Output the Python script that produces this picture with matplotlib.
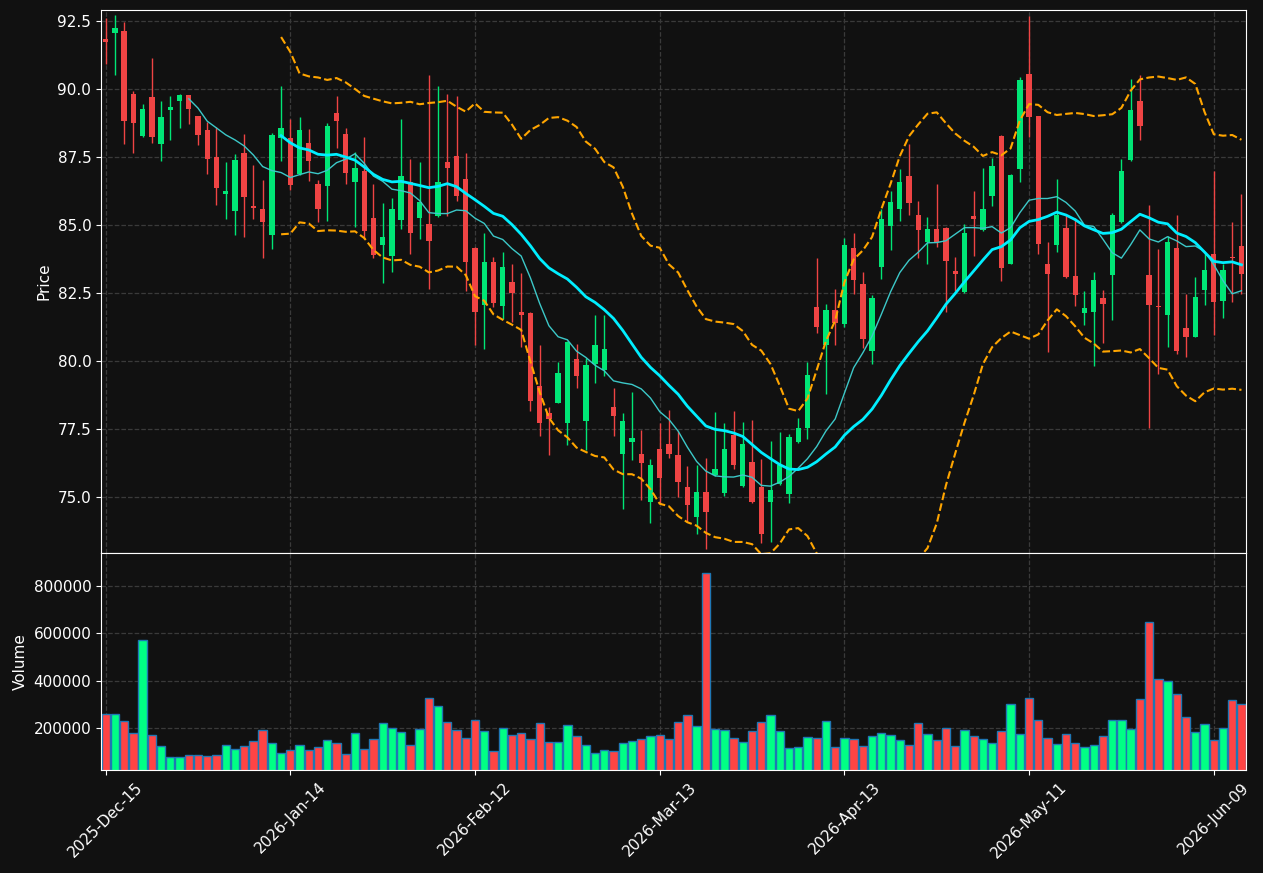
import numpy as np
import pandas as pd
import matplotlib
matplotlib.use("Agg")
import matplotlib.pyplot as plt
from pandas.tseries.offsets import CustomBusinessDay

holidays = ["2025-12-25", "2026-01-01", "2026-01-19", "2026-02-16", "2026-04-03", "2026-05-25"]
start_date = "2025-12-15"

opens = [91.83, 92.04, 92.14, 89.81, 88.27, 89.70, 87.98, 89.23, 89.55, 89.76,
         89.00, 88.48, 87.48, 86.14, 85.51, 87.64, 85.71, 85.57, 84.62, 88.20,
         88.19, 86.89, 88.03, 86.50, 86.43, 89.13, 88.33, 86.57, 86.97, 85.24,
         84.25, 83.84, 85.17, 86.57, 85.25, 85.05, 85.32, 87.30, 87.52, 86.68,
         84.16, 82.07, 83.65, 82.03, 82.90, 81.80, 81.76, 79.07, 78.10, 78.45,
         77.72, 80.07, 77.80, 79.90, 79.67, 78.30, 76.56, 77.01, 76.56, 74.83,
         76.78, 76.96, 76.53, 75.37, 74.28, 75.18, 75.79, 75.14, 77.27, 75.40,
         76.30, 75.35, 74.83, 75.46, 75.11, 77.01, 77.53, 81.99, 80.59, 81.89,
         81.34, 84.16, 82.84, 80.38, 83.44, 84.96, 85.57, 86.79, 85.38, 84.38,
         84.84, 84.90, 83.29, 82.52, 85.34, 84.80, 86.08, 88.27, 83.58, 87.06,
         90.56, 89.00, 83.57, 84.28, 84.90, 83.12, 81.77, 81.81, 82.31, 83.15,
         85.10, 87.39, 89.55, 83.17, 82.02, 81.67, 84.16, 81.21, 80.89, 82.62,
         83.94, 82.20, 83.81, 84.22]
highs = [92.59, 92.73, 92.46, 89.93, 89.43, 91.13, 89.54, 89.74, 89.83, 89.76,
         89.02, 88.77, 88.59, 87.30, 87.59, 88.33, 87.20, 86.64, 88.39, 90.10,
         88.91, 88.97, 88.52, 86.66, 88.74, 89.74, 88.56, 87.69, 88.23, 86.50,
         85.79, 86.00, 88.88, 87.41, 87.30, 90.51, 90.10, 89.81, 89.74, 87.66,
         84.20, 84.70, 83.81, 84.01, 83.56, 83.24, 81.80, 80.58, 78.32, 79.96,
         80.72, 80.63, 80.12, 81.70, 81.70, 79.02, 78.07, 78.87, 77.46, 76.40,
         77.71, 78.19, 77.42, 76.14, 76.18, 76.44, 78.13, 77.71, 78.17, 77.77,
         77.81, 76.40, 77.04, 77.40, 77.32, 77.91, 79.96, 83.78, 82.11, 82.65,
         84.53, 84.71, 83.26, 82.43, 85.60, 86.25, 87.05, 87.98, 85.89, 85.28,
         86.50, 84.92, 83.81, 85.03, 86.23, 87.10, 87.46, 88.29, 86.89, 90.43,
         92.69, 89.02, 84.38, 86.70, 85.38, 85.25, 82.58, 83.26, 82.62, 85.44,
         87.43, 90.36, 90.51, 85.74, 84.12, 84.61, 85.38, 82.45, 83.10, 83.97,
         86.98, 83.58, 85.12, 86.15]
lows = [90.93, 90.51, 87.97, 87.66, 88.23, 88.00, 87.35, 88.12, 88.55, 88.71,
        87.92, 86.88, 85.73, 85.21, 84.64, 84.56, 85.21, 83.79, 84.12, 87.35,
        86.30, 86.82, 86.61, 85.10, 85.15, 87.84, 86.51, 84.93, 84.48, 83.78,
        82.85, 83.26, 84.84, 83.93, 84.48, 82.65, 85.30, 85.33, 85.87, 82.58,
        80.57, 80.44, 81.97, 81.53, 81.44, 80.53, 78.17, 77.24, 76.55, 78.45,
        76.91, 78.99, 76.72, 79.18, 79.45, 77.24, 74.56, 76.36, 74.88, 74.04,
        74.76, 76.44, 74.99, 74.09, 73.64, 73.09, 75.76, 75.05, 76.04, 75.37,
        74.79, 73.32, 73.36, 75.44, 74.79, 76.97, 77.14, 81.02, 78.77, 80.57,
        81.25, 82.45, 80.48, 79.89, 83.03, 84.07, 85.15, 85.35, 83.80, 83.58,
        84.19, 81.79, 82.58, 82.50, 83.84, 84.78, 85.70, 82.92, 83.56, 86.59,
        88.23, 83.93, 80.31, 84.01, 83.04, 82.02, 81.31, 79.80, 80.67, 81.49,
        85.08, 87.35, 88.14, 77.55, 79.52, 80.53, 80.25, 80.14, 80.87, 82.04,
        80.95, 81.57, 82.17, 82.45]
closes = [91.73, 92.24, 88.83, 88.75, 89.25, 88.24, 88.96, 89.33, 89.78, 89.27,
          88.30, 87.42, 86.35, 86.23, 87.38, 86.02, 85.61, 85.10, 88.29, 88.56,
          86.47, 88.48, 87.34, 85.57, 88.63, 88.83, 86.91, 87.09, 84.76, 83.88,
          84.56, 85.57, 86.79, 84.72, 85.83, 84.40, 86.57, 87.10, 86.06, 83.62,
          81.81, 83.65, 82.13, 83.47, 82.48, 81.67, 78.53, 77.72, 77.87, 79.55,
          80.70, 79.45, 79.85, 80.58, 80.44, 77.98, 77.78, 77.15, 76.24, 76.19,
          75.69, 76.59, 75.54, 74.69, 75.18, 74.44, 76.04, 76.78, 76.17, 76.96,
          74.82, 73.62, 75.27, 76.17, 77.22, 77.55, 79.48, 81.26, 81.88, 81.38,
          84.28, 82.99, 80.79, 82.31, 85.20, 85.83, 86.56, 85.79, 84.83, 84.84,
          84.38, 83.66, 83.20, 84.71, 85.21, 85.60, 87.15, 83.43, 86.82, 90.33,
          88.97, 84.29, 83.20, 85.38, 83.10, 82.43, 81.95, 82.98, 82.11, 85.38,
          86.97, 89.22, 88.64, 82.07, 81.97, 84.39, 80.38, 80.89, 82.35, 83.35,
          82.15, 83.35, 83.78, 83.20]
volumes = [259000, 259000, 229500, 180300, 571000, 170500, 124100, 76300, 76300, 86200,
           86200, 82000, 86200, 128300, 111500, 124100, 145200, 191600, 136800, 94600,
           107300, 128300, 107300, 119900, 149400, 136800, 90400, 179000, 111500, 153600,
           221000, 198600, 183100, 128300, 195800, 326500, 292700, 225300, 191600, 157800,
           233700, 187400, 103000, 200000, 171900, 180300, 155000, 221000, 141000, 141000,
           212600, 166300, 128300, 94600, 107300, 103000, 136800, 145200, 153600, 166300,
           170500, 153600, 225300, 254800, 208400, 853400, 195800, 191600, 157800, 141000,
           187400, 225300, 254800, 187400, 115700, 119900, 162100, 157800, 229500, 119900,
           157800, 153600, 124100, 166300, 179000, 170500, 149400, 128300, 221000, 174700,
           149400, 200000, 124100, 191600, 166300, 153600, 136800, 187400, 301200, 174700,
           326500, 233700, 157800, 132500, 174700, 136800, 119900, 128300, 166300, 233700,
           233700, 195800, 322300, 646900, 406600, 398100, 343300, 246400, 183100, 216900,
           149400, 200000, 318000, 301200]

bday = CustomBusinessDay(holidays=holidays)
dates = pd.date_range(start=start_date, periods=len(closes), freq=bday)

df = pd.DataFrame({"Open": opens, "High": highs, "Low": lows, "Close": closes,
                   "Volume": volumes}, index=dates)
ma10 = df["Close"].rolling(10).mean()
ma20 = df["Close"].rolling(20).mean()
std20 = df["Close"].rolling(20).std(ddof=0)
upper = ma20 + 2 * std20
lower = ma20 - 2 * std20

BG = "#111111"
UP_C, DN_C = "#00e676", "#ef4444"
VUP_C, VDN_C = "#00ff85", "#ff4444"

fig = plt.figure(figsize=(12.63, 8.73), dpi=100, facecolor=BG)
ax = fig.add_axes([0.080, 0.3666, 0.9066, 0.6219])
axv = fig.add_axes([0.080, 0.1180, 0.9066, 0.2486], sharex=ax)

x = np.arange(len(df))
up = df["Close"] >= df["Open"]
ccol = np.where(up, UP_C, DN_C)
vcol = np.where(up, VUP_C, VDN_C)

ax.vlines(x, df["Low"], df["High"], colors=ccol, linewidth=1.0, zorder=2)
body_bot = np.minimum(df["Open"], df["Close"])
body_h = np.abs(df["Close"] - df["Open"])
body_h = np.maximum(body_h, 0.05)
ax.bar(x, body_h, bottom=body_bot, width=0.58, color=ccol, linewidth=0, zorder=3)

ax.plot(x, ma10, color="#3cc8c8", linewidth=1.0, zorder=4)
ax.plot(x, ma20, color="#00eeff", linewidth=2.0, zorder=5)
ax.plot(x, upper, color="#ffa500", linewidth=1.5, linestyle="--", zorder=4)
ax.plot(x, lower, color="#ffa500", linewidth=1.5, linestyle="--", zorder=4)

axv.bar(x, df["Volume"], width=0.9, color=vcol, edgecolor="#1f77b4", linewidth=1.0)

for a in (ax, axv):
    a.set_facecolor(BG)
    for s in a.spines.values():
        s.set_color("white")
    a.tick_params(colors="white", labelsize=11)
    a.grid(True, color="#3a3a3a", linestyle="--", linewidth=0.9)
    a.set_axisbelow(True)

ax.set_xlim(-0.5, len(df) - 0.5)
ax.set_ylim(72.94, 92.90)
ax.set_yticks([75.0, 77.5, 80.0, 82.5, 85.0, 87.5, 90.0, 92.5])
ax.yaxis.set_major_formatter(matplotlib.ticker.FormatStrFormatter("%.1f"))
ax.set_ylabel("Price", color="white", fontsize=11)
plt.setp(ax.get_xticklabels(), visible=False)

axv.set_ylim(min(volumes) * 0.3, max(volumes) * 1.1)
axv.set_yticks([200000, 400000, 600000, 800000])
axv.yaxis.set_major_formatter(matplotlib.ticker.FuncFormatter(lambda v, p: f"{int(v)}"))
axv.set_ylabel("Volume", color="white", fontsize=11)

tick_idx = list(range(0, len(df), 20))
axv.set_xticks(tick_idx)
axv.set_xticklabels([dates[i].strftime("%Y-%b-%d") for i in tick_idx], rotation=45,
                    ha="center")

fig.savefig("out.png", dpi=100, facecolor=BG)
